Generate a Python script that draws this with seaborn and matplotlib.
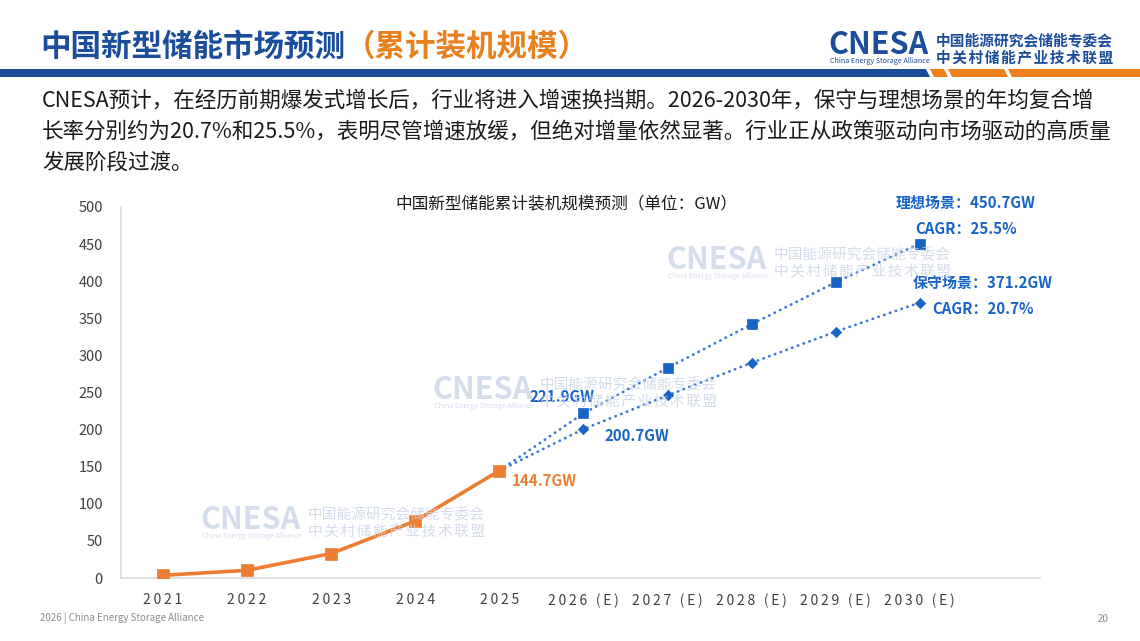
import pandas as pd
import matplotlib.pyplot as plt
import matplotlib.patches as mpatches
import seaborn as sns

# chart data (GW, cumulative installed capacity)
years = ['2021', '2022', '2023', '2024', '2025',
         '2026 (E)', '2027 (E)', '2028 (E)', '2029 (E)', '2030 (E)']
actual = [3.6, 10.4, 33.0, 76.8, 144.7]
ideal = [144.7, 221.9, 283.0, 342.0, 398.5, 450.7]
conservative = [144.7, 200.7, 246.0, 290.0, 332.0, 371.2]
y_ticks = [0, 50, 100, 150, 200, 250, 300, 350, 400, 450, 500]

title_blue = '中国新型储能市场预测'
title_orange = '（累计装机规模）'
intro_lines = [
    'CNESA预计，在经历前期爆发式增长后，行业将进入增速换挡期。2026-2030年，保守与理想场景的年均复合增',
    '长率分别约为20.7%和25.5%，表明尽管增速放缓，但绝对增量依然显著。行业正从政策驱动向市场驱动的高质量',
    '发展阶段过渡。',
]
chart_title = '中国新型储能累计装机规模预测（单位：GW）'

BLUE_DARK = '#1B4D9B'
ORANGE = '#ED7D31'
BLUE_MARK = '#1763C6'
BLUE_LINE = '#3A78D6'
W, H = 1140, 641

sns.set_theme(style='white')
plt.rcParams['font.family'] = ['Noto Sans CJK SC', 'DejaVu Sans']


def fx(px):
    return px / W


def fy(py):
    return 1 - py / H


def logo(fig, x0, y0, color, alpha=1.0, cjk_weight='bold', z=0):
    # CNESA logo block: x0 = left of "CNESA", y0 = its vertical centre (pixels)
    fig.text(fx(x0 - 2), fy(y0), 'CNESA', fontsize=22, fontweight='bold', color=color,
             alpha=alpha, ha='left', va='center', zorder=z)
    fig.text(fx(x0), fy(y0 + 16), 'China Energy Storage Alliance', fontsize=5.2,
             color=color, alpha=alpha, ha='left', va='center', zorder=z)
    fig.text(fx(x0 + 106), fy(y0 - 5), '中国能源研究会储能专委会', fontsize=10.6,
             fontweight=cjk_weight, color=color, alpha=alpha, ha='left', va='center',
             zorder=z)
    fig.text(fx(x0 + 106), fy(y0 + 12), '\u200a'.join('中关村储能产业技术联盟'),
             fontsize=10.6, fontweight=cjk_weight, color=color, alpha=alpha,
             ha='left', va='center', zorder=z)


fig = plt.figure(figsize=(11.4, 6.41), dpi=100)
fig.patch.set_facecolor('white')

# header title in two colours
t1 = fig.text(fx(40), fy(47), title_blue, fontsize=22, fontweight='bold',
              color=BLUE_DARK, ha='left', va='center')
fig.canvas.draw()
bb = t1.get_window_extent()
fig.text(bb.x1 / W, fy(47), title_orange, fontsize=22, fontweight='bold',
         color='#E8801E', ha='left', va='center')

logo(fig, 830, 45, BLUE_DARK)

# header band: blue bar and slanted orange segments
band = [((0, 69), (926, 69), (930, 77), (0, 77), BLUE_DARK),
        ((930, 69), (944, 69), (948, 77), (934, 77), '#EE7F1A'),
        ((948, 69), (1004, 69), (1008, 77), (952, 77), '#EE7F1A'),
        ((1008, 69), (1140, 69), (1140, 77), (1012, 77), '#EE7F1A')]
for *pts, col in band:
    fig.patches.append(mpatches.Polygon([(fx(a), fy(b)) for a, b in pts], closed=True,
                                        transform=fig.transFigure, facecolor=col,
                                        edgecolor='none'))

for i, line in enumerate(intro_lines):
    fig.text(fx(42), fy(101 + 31 * i), line, fontsize=15.5, color='#1A1A1A',
             ha='left', va='center')

# watermarks
for wx, wy in [(668, 260), (434, 390), (202, 520)]:
    logo(fig, wx, wy, '#CBD4E6', alpha=0.8, cjk_weight='normal', z=0)

# footer
fig.text(fx(40), fy(618), '2026 | China Energy Storage Alliance', fontsize=7,
         color='#8C8C8C', ha='left', va='center')
fig.text(fx(1098), fy(619), '20', fontsize=7, color='#8C8C8C', ha='left', va='center')

# chart axes
ax = fig.add_axes([fx(121), fy(578), (1040 - 121) / W, (578 - 207) / H])
ax.set_facecolor('none')

df_act = pd.DataFrame({'x': range(5), 'GW': actual})
df_ideal = pd.DataFrame({'x': range(4, 10), 'GW': ideal})
df_cons = pd.DataFrame({'x': range(4, 10), 'GW': conservative})

dot = (0, (0.1, 2.1))
sns.lineplot(data=df_ideal, x='x', y='GW', color=BLUE_LINE, lw=2.0, linestyle=dot,
             dash_capstyle='round', ax=ax, zorder=2, legend=False)
sns.lineplot(data=df_cons, x='x', y='GW', color=BLUE_LINE, lw=2.0, linestyle=dot,
             dash_capstyle='round', ax=ax, zorder=2, legend=False)
sns.scatterplot(data=df_ideal.iloc[1:], x='x', y='GW', marker='s', s=62, color=BLUE_MARK,
                edgecolor=BLUE_MARK, linewidth=0.5, ax=ax, zorder=3, legend=False)
sns.scatterplot(data=df_cons.iloc[1:], x='x', y='GW', marker='D', s=28, color=BLUE_MARK,
                edgecolor=BLUE_MARK, linewidth=0.5, ax=ax, zorder=3, legend=False)
sns.lineplot(data=df_act, x='x', y='GW', color=ORANGE, lw=2.6, ax=ax, zorder=4,
             legend=False)
sns.scatterplot(data=df_act, x='x', y='GW', marker='s', s=72, color=ORANGE,
                edgecolor=ORANGE, linewidth=0.5, ax=ax, zorder=5, legend=False)

ax.set_xlim(-0.5, 10.43)
ax.set_ylim(0, 500)
ax.set_yticks(y_ticks)
ax.set_yticklabels([str(v) for v in y_ticks], fontsize=10.5, color='#404040')
ax.set_xticks(range(len(years)))
ax.set_xticklabels(['\u2009'.join(y) for y in years], fontsize=10, color='#404040')
ax.tick_params(axis='y', length=0, pad=13)
ax.tick_params(axis='x', length=0, pad=11)
ax.set_xlabel('')
ax.set_ylabel('')
for side in ['top', 'right']:
    ax.spines[side].set_visible(False)
for side in ['left', 'bottom']:
    ax.spines[side].set_color('#D9D9D9')
    ax.spines[side].set_linewidth(1.2)

fig.text(fx(566), fy(204), chart_title, fontsize=12, color='#1A1A1A',
         ha='center', va='center')

# data labels
lab_kw = dict(textcoords='offset pixels', ha='center', va='center',
              fontsize=10.8, fontweight='bold')
ax.annotate('144.7GW', (4, actual[4]), xytext=(45, -10), color=ORANGE, **lab_kw)
ax.annotate('221.9GW', (5, ideal[1]), xytext=(-21, 16), color=BLUE_MARK, **lab_kw)
ax.annotate('200.7GW', (5, conservative[1]), xytext=(53, -7), color=BLUE_MARK, **lab_kw)
ax.annotate('理想场景：450.7GW', (9, ideal[5]), xytext=(46, 41), color=BLUE_MARK, **lab_kw)
ax.annotate('CAGR：25.5%', (9, ideal[5]), xytext=(46, 15), color=BLUE_MARK, **lab_kw)
ax.annotate('保守场景：371.2GW', (9, conservative[5]), xytext=(63, 20), color=BLUE_MARK,
            **lab_kw)
ax.annotate('CAGR：20.7%', (9, conservative[5]), xytext=(63, -6), color=BLUE_MARK, **lab_kw)

fig.savefig('out.png', dpi=100, facecolor='white')
